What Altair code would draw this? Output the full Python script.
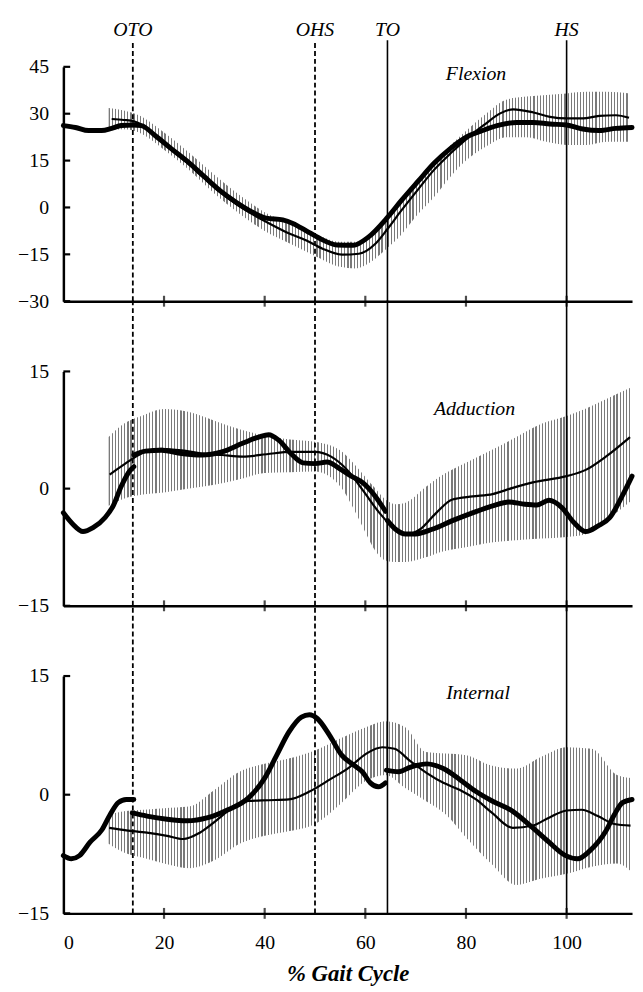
import altair as alt
import pandas as pd

# ---------------- data ----------------
EVENT_NAMES = ["OTO", "OHS", "TO", "HS"]
EVENT_X = [13.8, 50.0, 64.4, 100.0]
EVENT_DASHED = [True, True, False, False]
X_TICKS = [0, 20, 40, 60, 80, 100]
X_MINOR = [20, 40, 60, 80, 100]

# Panel 1 : Flexion
P1_LABEL = "Flexion"
P1_YTICKS = [45, 30, 15, 0, -15, -30]
P1_THICK_X = [0, 2.4, 5, 7.6, 9.6, 11.5, 13.8, 15.5, 18.1, 21.3, 24.6, 27.9, 31.2, 34.4, 37.7, 40.3,
              43.6, 45.6, 48.2, 50.8, 54.4, 57.6, 60.6, 64.4, 67.1, 70.5, 73.7, 77, 80.3, 83.6, 86.8,
              90.1, 93.4, 96.7, 100, 103.2, 106.5, 109.8, 113]
P1_THICK_Y = [26.2, 25.6, 24.6, 24.6, 25.3, 26.2, 26.4, 26.2, 23.2, 19.0, 14.8, 10.0, 5.3, 1.6, -1.6, -3.4,
              -4.0, -5.1, -7.4, -9.8, -12.0, -12.1, -9.5, -3.2, 2.1, 8.4, 14.2, 19.0, 22.7, 24.8, 26.4,
              27.2, 27.2, 26.7, 26.4, 25.1, 24.6, 25.3, 25.6]
P1_THIN_X = [9.6, 12, 14, 16, 18.1, 21.3, 24.6, 27.9, 31.2, 34.4, 37.7, 40.3, 44.3, 48.2, 51.5, 55.4,
             58.7, 62, 64.4, 67.1, 70.5, 73.7, 77, 80.3, 83.6, 86.8, 89.4, 93.4, 96.7, 100, 103.2,
             106.5, 109.8, 112.4]
P1_THIN_Y = [28.3, 28.0, 27.6, 26.0, 23.0, 18.6, 14.3, 9.5, 4.8, 1.0, -2.3, -4.6, -7.9, -10.5, -13.2, -15.1,
             -14.8, -11.6, -6.9, -1.1, 5.8, 12.1, 17.4, 22.2, 26.4, 30.1, 31.4, 30.4, 29.0, 28.5, 28.5,
             29.3, 29.5, 28.7]
P1_BAND_X = [9, 12, 15, 20, 25, 30, 35, 40, 45, 50, 55, 58, 61, 64, 67, 70, 74, 77, 80, 84, 88, 92,
             96, 100, 104, 108, 112.5]
P1_BAND_LO = [24.8, 25.0, 24.0, 18.5, 12.0, 4.5, -2.0, -7.5, -11.5, -15.5, -19.0, -19.5, -17.5, -13.5,
              -9.0, -3.0, 4.0, 10.0, 15.0, 19.5, 22.5, 22.5, 21.0, 20.0, 20.0, 21.0, 21.0]
P1_BAND_HI = [31.8, 31.0, 29.5, 24.0, 17.5, 10.5, 4.0, -1.5, -5.0, -8.5, -11.0, -11.0, -8.5, -3.5,
              2.0, 8.0, 15.0, 20.0, 24.5, 30.0, 34.5, 35.5, 36.0, 36.5, 37.0, 37.0, 36.5]

# Panel 2 : Adduction
P2_LABEL = "Adduction"
P2_YTICKS = [15, 0, -15]
P2_THICK_A_X = [0, 1.8, 3.9, 5.9, 8.3, 9.9, 11.5, 13.1, 14]
P2_THICK_A_Y = [-3.1, -4.5, -5.5, -5.0, -3.7, -2.2, 0.3, 2.2, 2.8]
P2_THICK_B_X = [14, 16.3, 19.5, 23.5, 27.5, 31.5, 35.6, 38.8, 40.8, 42.8, 45.2, 47.6, 50, 52.4, 54.8,
                57.2, 59.6, 62, 64]
P2_THICK_B_Y = [4.3, 4.8, 4.9, 4.5, 4.3, 4.7, 5.8, 6.6, 6.9, 6.2, 4.5, 3.3, 3.2, 3.4, 2.6,
                1.6, 0.7, -1.0, -2.9]
P2_THICK_C_X = [64.4, 66, 68, 70, 73.3, 77.3, 81.3, 85.3, 88.5, 91.7, 94.1, 96.5, 99, 101.4, 103.8,
                106.2, 108.6, 111, 113]
P2_THICK_C_Y = [-4.1, -5.2, -5.8, -5.8, -5.2, -4.1, -3.1, -2.2, -1.7, -2.0, -2.1, -1.5, -2.4, -4.3, -5.5,
                -4.8, -3.7, -1.0, 1.6]
P2_THIN_X = [9.2, 12.3, 15.5, 19.5, 23.5, 27.5, 31.5, 35.6, 40.4, 45.2, 50, 53.2, 56.4, 59.6, 62.8,
             66, 68.5, 70.9, 74.1, 77.3, 81.3, 85.3, 89.3, 93.3, 100, 103.8, 107.8, 112.6]
P2_THIN_Y = [1.8, 3.2, 4.5, 5.1, 4.9, 4.5, 4.3, 4.1, 4.4, 4.7, 4.7, 4.1, 2.4, -0.3, -3.1,
             -5.2, -5.8, -5.2, -3.1, -1.4, -1.0, -0.7, 0.1, 0.8, 1.6, 2.4, 4.1, 6.6]
P2_BAND_X = [9, 12, 15.5, 20, 25, 30, 35, 40, 45, 50, 55, 58, 60, 62, 64, 66, 68, 72, 75, 80, 85,
             90, 95, 100, 104, 108, 113]
P2_BAND_LO = [-2.2, -1.3, -0.8, -0.5, 0.0, 0.5, 1.2, 2.0, 2.1, 2.2, 0.3, -3.0, -5.6, -8.0, -9.2, -9.4,
              -9.4, -8.8, -8.1, -7.5, -6.9, -6.6, -6.4, -6.2, -5.8, -4.0, -1.5]
P2_BAND_HI = [6.6, 8.3, 9.3, 10.2, 9.8, 8.7, 7.6, 6.8, 6.3, 6.0, 4.9, 3.0, 1.5, 0.0, -1.4, -2.0,
              -1.8, 0.2, 1.6, 3.3, 4.9, 6.6, 8.3, 9.3, 10.3, 11.5, 13.0]

# Panel 3 : Internal rotation
P3_LABEL = "Internal"
P3_YTICKS = [15, 0, -15]
P3_THICK_A_X = [0, 1.6, 3.2, 5.3, 7.7, 9.3, 10.9, 12.5, 14]
P3_THICK_A_Y = [-7.7, -8.1, -7.7, -6.0, -4.4, -2.5, -1.0, -0.6, -0.6]
P3_THICK_B_X = [13.7, 16.6, 20.6, 24.6, 28.7, 32.7, 36.8, 40, 42.4, 44.8, 47.3, 48.9, 50.5, 52.9, 55.3,
                57.8, 59.4, 61, 62.6, 64]
P3_THICK_B_Y = [-2.3, -2.7, -3.1, -3.3, -2.9, -1.9, -0.4, 2.1, 5.0, 7.9, 9.8, 10.1, 9.6, 7.5, 5.0,
                3.7, 2.9, 1.5, 1.0, 1.5]
P3_THICK_C_X = [64.2, 66.6, 69, 72.3, 75.5, 78.8, 82, 85.2, 89.3, 93.3, 96.5, 99.8, 102.2, 104.6, 107.8,
                109.5, 111.1, 113]
P3_THICK_C_Y = [3.1, 2.9, 3.5, 3.9, 3.3, 1.9, 0.4, -0.8, -2.1, -4.2, -6.0, -7.7, -8.1, -7.1, -4.6,
                -2.5, -1.0, -0.6]
P3_THIN_X = [9.1, 12.5, 16.6, 20.6, 23.8, 27.1, 30.3, 33.5, 36.8, 40.8, 44.8, 48.9, 52.9, 56.9, 60.2,
             63.4, 65.8, 69, 72.3, 75.5, 78.8, 82, 85.2, 89.3, 93.3, 96.5, 100, 103, 106.2, 109.5, 112.7]
P3_THIN_Y = [-4.2, -4.5, -4.8, -5.2, -5.6, -4.8, -3.3, -1.7, -0.8, -0.7, -0.6, 0.4, 1.9, 3.5, 5.2,
             6.0, 5.8, 4.2, 2.7, 1.5, 0.6, -0.6, -2.3, -4.2, -3.9, -2.9, -2.0, -1.9, -2.7, -3.7, -3.9]
P3_BAND_X = [9, 12, 16, 20, 25, 30, 35, 40, 45, 50, 55, 60, 64, 68, 72, 76, 80, 85, 90, 95, 100,
             105, 110, 113]
P3_BAND_LO = [-6.2, -7.3, -8.0, -8.7, -9.3, -8.3, -6.2, -5.2, -4.6, -3.7, -1.2, 1.7, 2.5, 0.8, -0.8,
              -2.5, -5.4, -8.7, -11.4, -10.6, -10.0, -9.1, -8.7, -9.8]
P3_BAND_HI = [-2.5, -2.1, -1.9, -1.7, -1.5, 0.6, 2.9, 3.9, 4.6, 5.6, 7.1, 8.5, 9.3, 8.5, 5.4,
              5.2, 5.0, 3.7, 3.3, 4.8, 6.0, 5.8, 2.5, 2.1]

# ---------------- style ----------------
FONT = "Liberation Serif"
W = 575
X_DOMAIN = [0, 113]
HATCH = "#7a7a7a"
N_STRIPES = 168

stops = []
for i in range(N_STRIPES):
    a = i / N_STRIPES
    b = (i + 0.38) / N_STRIPES
    c = (i + 1) / N_STRIPES
    stops += [alt.GradientStop(offset=a, color=HATCH),
              alt.GradientStop(offset=b, color=HATCH),
              alt.GradientStop(offset=b, color="rgba(255,255,255,0)"),
              alt.GradientStop(offset=c, color="rgba(255,255,255,0)")]
hatch_fill = alt.LinearGradient(gradient="linear", stops=stops, x1=0, x2=1, y1=0, y2=0)


def segs_df(segs):
    rows = []
    for k, (xs, ys) in enumerate(segs):
        for x, y in zip(xs, ys):
            rows.append({"x": x, "y": y, "seg": k})
    return pd.DataFrame(rows)


def panel(label, label_x, label_y, ydom, yticks, height, thick_segs, thin_x, thin_y,
          band_x, band_lo, band_hi, rule_top, bottom, event_labels):
    if bottom:
        xaxis = alt.Axis(values=X_TICKS, ticks=False, domain=True, domainColor="black",
                         domainWidth=2.5, labelFontSize=20, labelFont=FONT, labelColor="black",
                         labelPadding=20, grid=False, title="% Gait Cycle", titleFont=FONT,
                         titleFontSize=23, titleFontStyle="italic", titleFontWeight="bold",
                         titleColor="black", titlePadding=10)
    else:
        xaxis = alt.Axis(values=X_TICKS, ticks=False, labels=False, domain=True,
                         domainColor="black", domainWidth=2.5, grid=False, title=None)
    yaxis = alt.Axis(values=yticks, ticks=False, domain=True, domainColor="black", domainWidth=2.5,
                     labelFontSize=20, labelFont=FONT, labelColor="black", labelPadding=15,
                     grid=False, title=None)
    xs = alt.Scale(domain=X_DOMAIN, nice=False, zero=False)
    ys = alt.Scale(domain=ydom, nice=False, zero=False)
    X = alt.X("x:Q", scale=xs, axis=xaxis)
    Y = alt.Y("y:Q", scale=ys, axis=yaxis)

    band_df = pd.DataFrame({"x": band_x, "y": band_lo, "y2": band_hi})
    band = alt.Chart(band_df).mark_area(fill=hatch_fill, interpolate="monotone", strokeWidth=0).encode(
        x=X, y=Y, y2="y2:Q")

    ev_df = pd.DataFrame({"x": EVENT_X, "y": [ydom[0]] * 4, "y2": [rule_top] * 4,
                          "dashed": EVENT_DASHED, "name": EVENT_NAMES})
    dashed = alt.Chart(ev_df).transform_filter("datum.dashed").mark_rule(
        color="black", strokeWidth=1.8, strokeDash=[5, 3]).encode(x=X, y=Y, y2="y2:Q")
    solid = alt.Chart(ev_df).transform_filter("!datum.dashed").mark_rule(
        color="black", strokeWidth=1.6).encode(x=X, y=Y, y2="y2:Q")

    thin = alt.Chart(pd.DataFrame({"x": thin_x, "y": thin_y})).mark_line(
        color="black", strokeWidth=2.2, interpolate="monotone").encode(x=X, y=Y)
    thick = alt.Chart(segs_df(thick_segs)).mark_line(
        color="black", strokeWidth=5, interpolate="monotone", strokeCap="round",
        strokeJoin="round").encode(x=X, y=Y, detail="seg:N")

    txt = alt.Chart(pd.DataFrame({"x": [label_x], "y": [label_y], "t": [label]})).mark_text(
        font=FONT, fontSize=20, fontStyle="italic", color="black", align="center",
        baseline="middle").encode(x=X, y=Y, text="t:N")

    ytick_df = pd.DataFrame({"x": [0] * len(yticks), "x2": [1.35] * len(yticks), "y": yticks})
    yt = alt.Chart(ytick_df).mark_rule(color="black", strokeWidth=2.2).encode(x=X, x2="x2:Q", y=Y)
    xtick_df = pd.DataFrame({"x": X_MINOR, "y": [ydom[0]] * len(X_MINOR)})
    xt = alt.Chart(xtick_df).mark_tick(color="black", thickness=2.2, size=11,
                                       orient="vertical").encode(x=X, y=Y)

    layers = [band, dashed, solid, thin, thick, txt, yt, xt]
    if event_labels:
        el = alt.Chart(pd.DataFrame({"x": EVENT_X, "y": [56.8] * 4, "t": EVENT_NAMES})).mark_text(
            font=FONT, fontSize=20, fontStyle="italic", color="black", align="center",
            baseline="middle").encode(x=X, y=Y, text="t:N")
        layers.append(el)
    return alt.layer(*layers).properties(width=W, height=height)


p1 = panel(P1_LABEL, 82, 42.6, [-30, 45], P1_YTICKS, 237,
           [(P1_THICK_X, P1_THICK_Y)], P1_THIN_X, P1_THIN_Y,
           P1_BAND_X, P1_BAND_LO, P1_BAND_HI, 53.5, False, True)
p2 = panel(P2_LABEL, 81.7, 10.2, [-15, 15], P2_YTICKS, 237,
           [(P2_THICK_A_X, P2_THICK_A_Y), (P2_THICK_B_X, P2_THICK_B_Y), (P2_THICK_C_X, P2_THICK_C_Y)],
           P2_THIN_X, P2_THIN_Y, P2_BAND_X, P2_BAND_LO, P2_BAND_HI, 24.1, False, False)
p3 = panel(P3_LABEL, 82.4, 12.9, [-15, 15], P3_YTICKS, 240,
           [(P3_THICK_A_X, P3_THICK_A_Y), (P3_THICK_B_X, P3_THICK_B_Y), (P3_THICK_C_X, P3_THICK_C_Y)],
           P3_THIN_X, P3_THIN_Y, P3_BAND_X, P3_BAND_LO, P3_BAND_HI, 24.0, True, False)

chart = alt.vconcat(p1, p2, p3, spacing=71, bounds="flush").properties(
    padding={"left": 9, "top": 6, "right": 0, "bottom": 0}
).configure(font=FONT, background="white").configure_view(stroke=None)

chart.save("out.html", embed_options={"renderer": "svg", "actions": False})
